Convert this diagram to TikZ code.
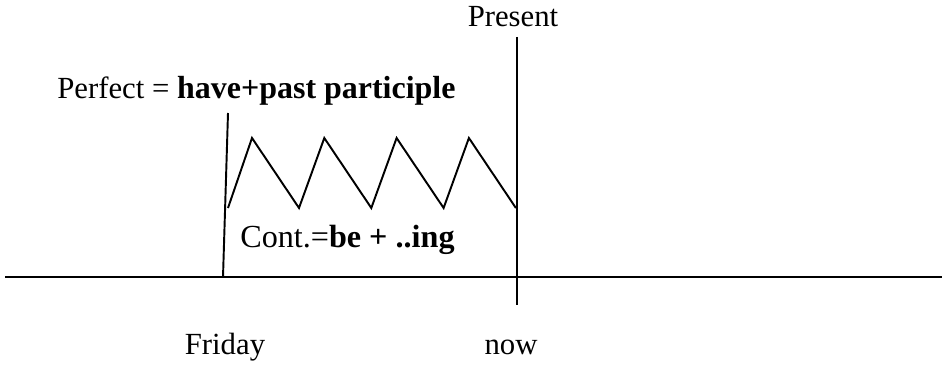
\documentclass[tikz,border=0pt]{standalone}
\usepackage{fontspec}
\setmainfont{Liberation Serif}
\usetikzlibrary{positioning}

\newcommand{\bigbold}[2]{{\fontsize{#1}{21}\selectfont\bfseries #2}}

\begin{document}
\begin{tikzpicture}[
x=0.02cm, y=-0.02cm,
line/.style={line width=1.1pt},
word/.style={font=\fontsize{17.5}{21}\selectfont, inner sep=0pt, anchor=base}
]
\useasboundingbox (0,0) rectangle (945,367);

% time line
\coordinate (start) at (5,277);
\coordinate (end) at (942,277);
\coordinate (fritop) at (228,113);
\coordinate (fribot) at (223,277);
\coordinate (nowtop) at (517,37);
\coordinate (nowbot) at (517,305);

\node[word] (present) at (513,27) {Present};
\node[word, anchor=base west] (perfect) at (57,99) {Perfect = \bigbold{18.2}{have+past participle}};
\node[word, anchor=base west, font=\fontsize{18.3}{21}\selectfont] (cont) at (240,248) {Cont.=\textbf{be + ..ing}};
\node[word] (friday) at (225,355) {Friday};
\node[word] (now) at (511,355) {now};

\draw[line] (start) -- (end);
\draw[line] (fribot) -- (fritop);
\draw[line] (nowtop) -- (nowbot);

% zigzag
\draw[line] (228,208) \foreach \i in {0,...,3} { -- (252+72.3*\i,138) -- (299+72.3*\i,208) };

\end{tikzpicture}
\end{document}
